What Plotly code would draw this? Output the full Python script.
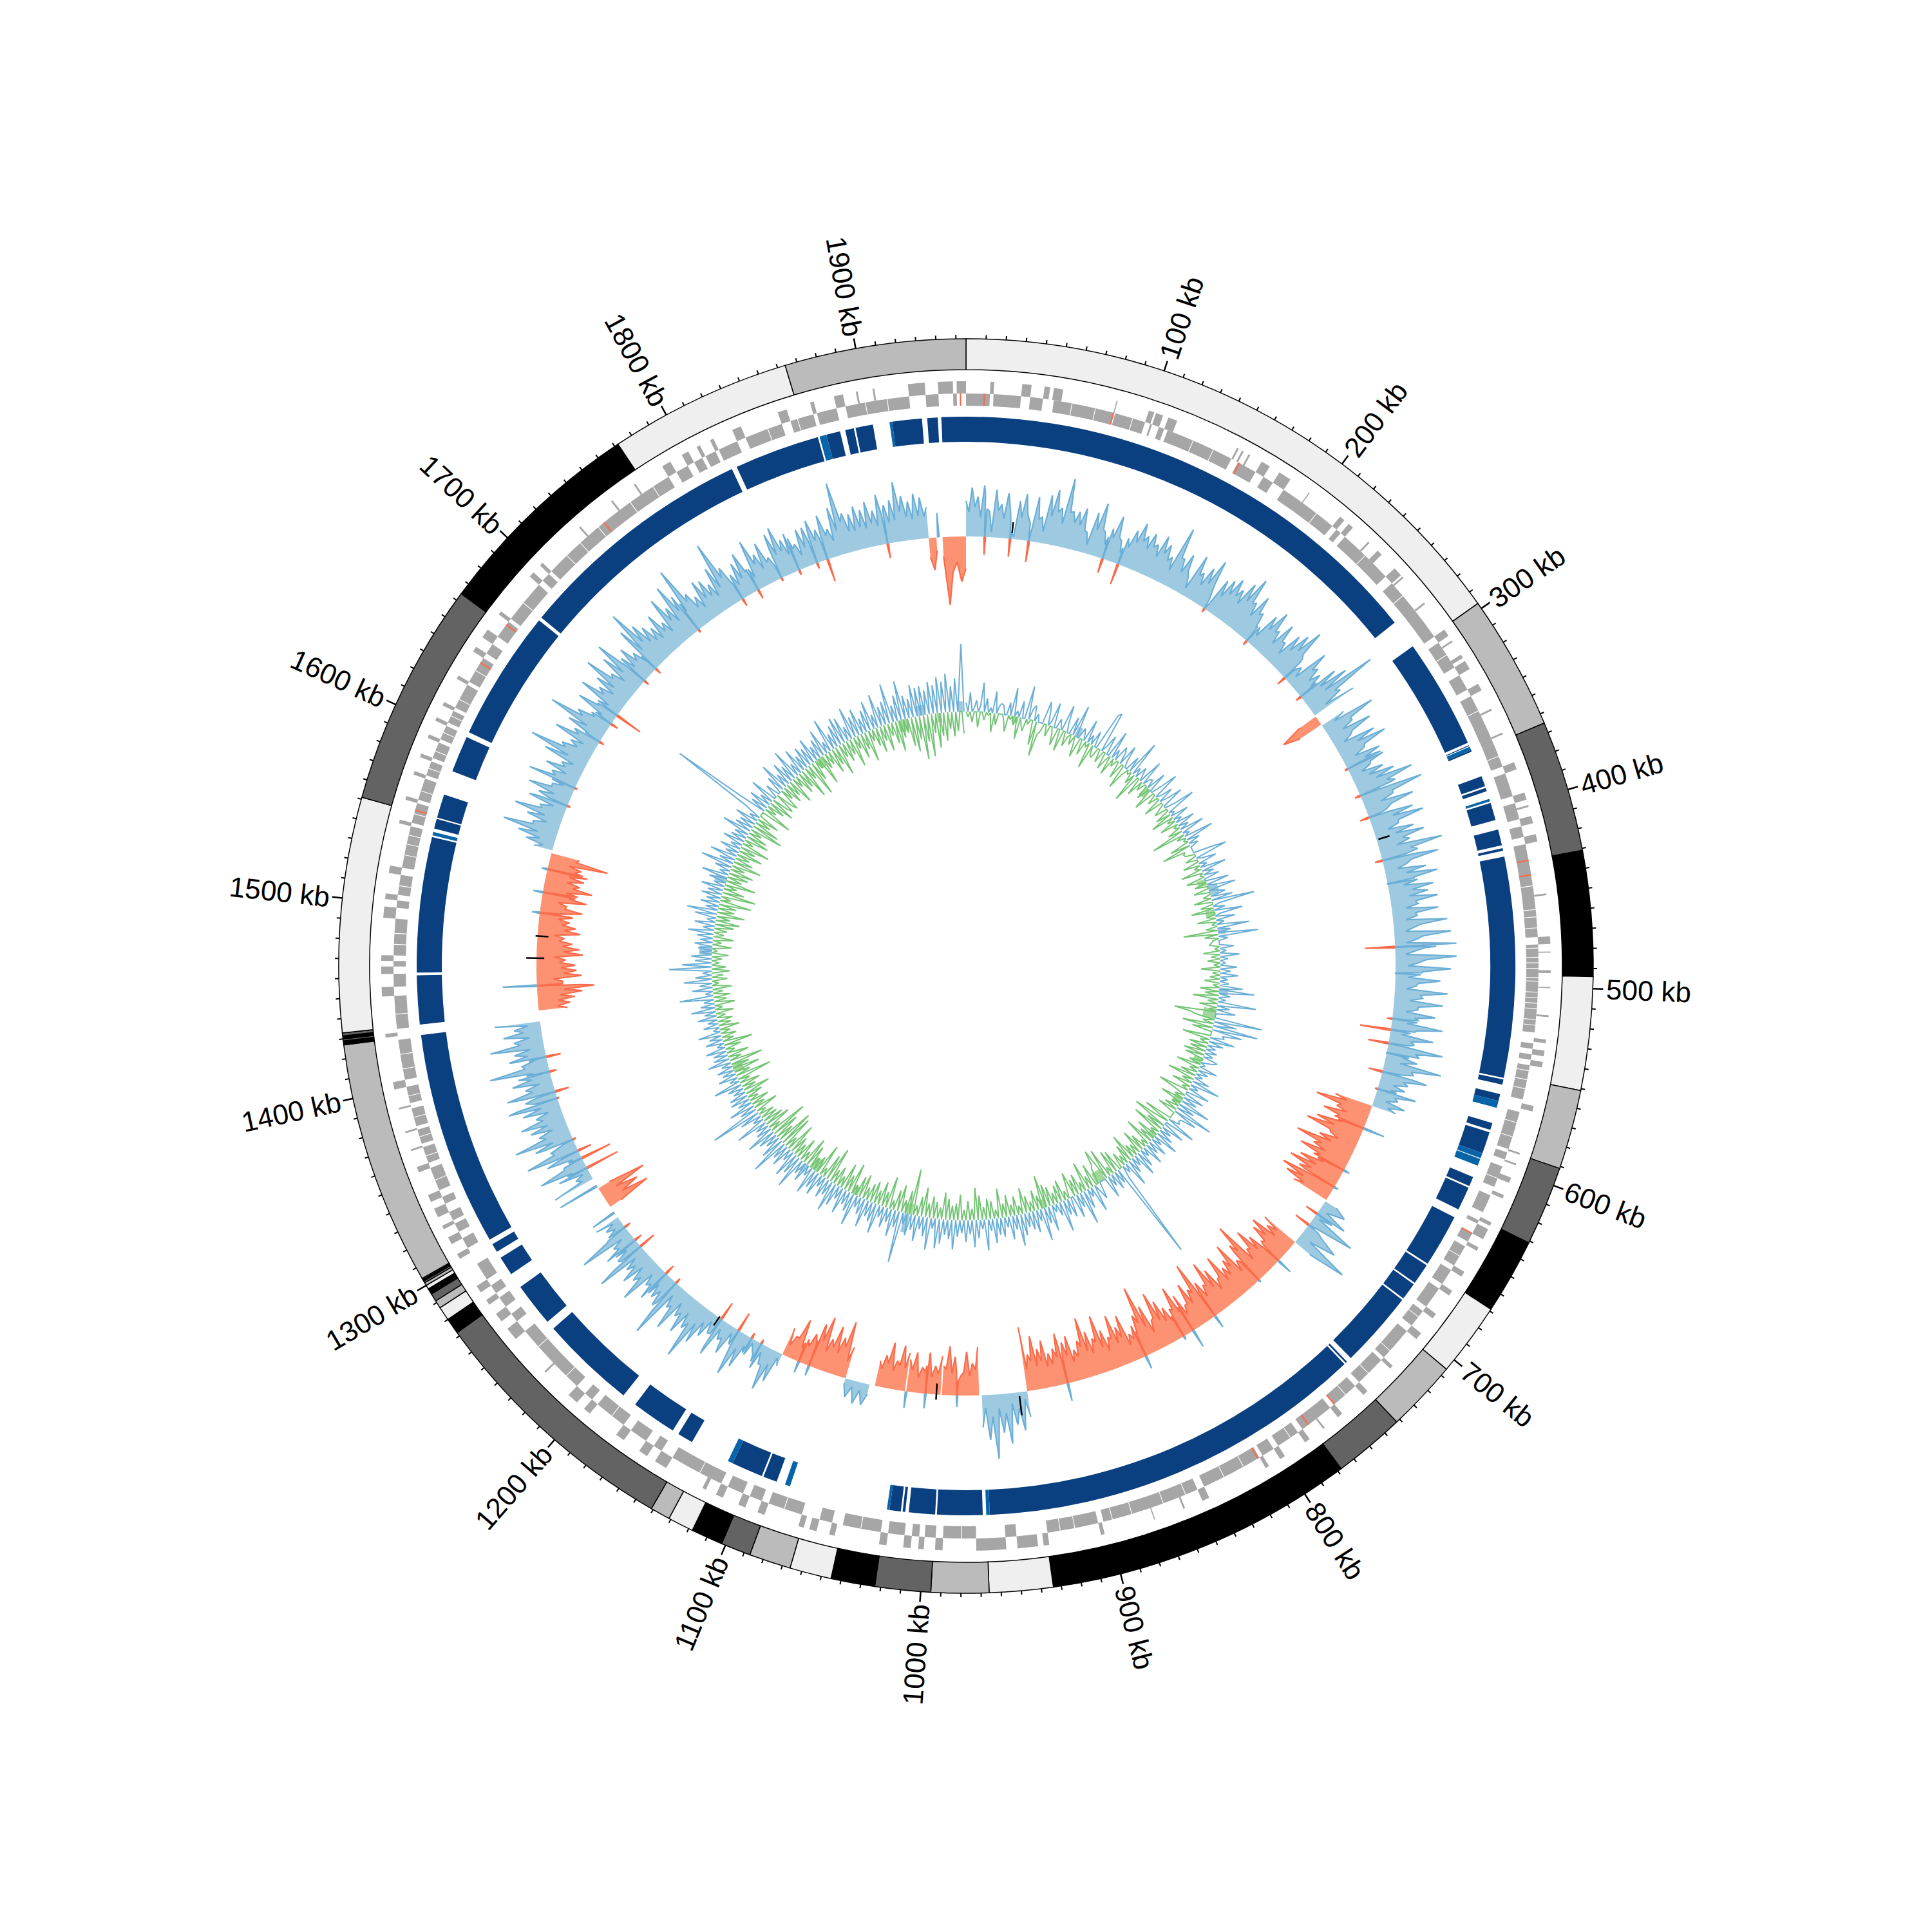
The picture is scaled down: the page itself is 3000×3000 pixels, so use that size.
import numpy as np
import plotly.graph_objects as go

GENOME_KB = 1955
MAJOR_KB = list(range(100, 1901, 100))
MINOR_KB = list(range(10, 1951, 10))

BAND_EDGES = [0,297,365,431,494,551,591,631,669,706,742,778,934,966,995,1023,1045,1066,1087,1102,1118,1131,1141,
              1272,1280,1287,1291,1295,1298,1300,1301.5,1302.5,1303.5,1304,1427,1429,1430,1431.5,1433,1551,1664,1772,1864,1955]
L, M, D, K = "#efefef", "#bbbbbb", "#636363", "#000000"
BAND_COLORS = [L,M,D,K,L,M,D,K,L,M,D,K,L,M,D,K,L,M,D,K,L,M,D,K,L,M,D,K,L,M,D,K,L,M,K,D,K,D,L,D,K,L,M]

GENES_OUTER = [(13,15),(30,35),(42,45),(47,52),(81,81.6),(99,102),(103,107),(110,115),(150,151),(153,154),(157,158),(165,170),
 (176,183),(195,195.6),(216,219),(222,225),(236,237),(243,246),(256,261),(262,263),(280,281),(298,302),(305,306),(314,316),(318,323),
 (332,336),(347,348),(361,362),(378,382),(395,399),(402,403),(408,412),(418,422),(450,451),(473,477),(481,481.6),(491,492.5),(500,500.6),
 (515,516),(528,530),(534,537),(540,543),(564,567),(590,591),(596,597),(604,607),(614,616),(630,632),(634,640),(645,647),(660,663),(672,675),
 (687,690),(700,704),(723,725),(742,745),(760,763),(772,773),(782,785),(798,801),(808,810),(844,848),(858,859),(875,875.6),(903,905),(933,936),
 (939,950),(956,972),(990,994),(1000,1003),(1007,1011),(1020,1024),(1048,1051),(1058,1062),(1065,1068),(1087,1091),(1098,1102),(1111,1115),
 (1121,1123),(1145,1152),(1157,1162),(1172,1177),(1195,1199),(1204,1210),(1227,1228),(1251,1258),(1263,1268),(1274,1277),(1282,1286),
 (1303,1306),(1312,1316),(1321,1323),(1328,1333),(1337,1341),(1354,1357),(1366,1367),(1376,1377),(1389,1390),(1400,1404),(1428,1430),(1450,1455),
 (1462,1466),(1469,1472),(1492,1498),(1502,1505),(1516,1520),(1543,1545),(1556,1558),(1570,1572),(1580,1582),(1591,1593),(1601,1603),(1610,1612),
 (1626,1628),(1643,1646),(1652,1657),(1667,1669),(1693,1696),(1701,1703),(1730,1731),(1752,1753),(1767,1768),(1785,1790),(1797,1801),(1806,1808),
 (1814,1816),(1827,1832),(1853,1858),(1871,1873),(1884,1889),(1896,1897),(1905,1906),(1924,1933),(1940,1948),(1950,1955)]

GENES_INNER = [(0,13),(15,30),(35,42),(48,81.5),(82,99),(102,103),(107,110),(112,150),(154,165),(170,176),(183,216),(219,222),(225,256),(261,298),
 (302,318),(323,332),(336,378),(382,395),(399,408),(412,418),(422,473),(477,525),(531,534),(537,540),(543,562),(569,590),(592,596),(600,612),
 (617,627),(632,634),(640,645),(648,660),(663,672),(675,687),(690,700),(704,723),(725,742),(745,760),(763,782),(785,798),(801,808),(810,844),
 (848,902),(905,933),(950,956),(972,990),(994,1000),(1003,1007),(1011,1020),(1024,1045),(1051,1058),(1068,1087),(1091,1098),(1102,1111),
 (1115,1145),(1152,1157),(1162,1172),(1177,1195),(1199,1204),(1210,1251),(1258,1263),(1268,1274),(1277,1282),(1286,1296),(1306,1312),(1316,1321),
 (1323,1328),(1333,1337),(1341,1354),(1357,1366),(1368,1376),(1378,1388),(1391,1400),(1404,1426),(1432,1450),(1455,1462),(1466,1469),(1472,1492),
 (1498,1502),(1505,1516),(1520,1543),(1545,1556),(1558,1570),(1572,1580),(1582,1591),(1593,1601),(1603,1610),(1612,1626),(1628,1643),(1646,1652),
 (1657,1667),(1669,1693),(1696,1701),(1703,1785),(1790,1797),(1801,1806),(1808,1814),(1816,1827),(1832,1853),(1858,1871),(1873,1884),(1889,1924),
 (1933,1940),(1948,1950)]
GENES_RED = [10,81,155,431,439,640,760,778,811,1552,1640,1665,1742,1952]
GENE_WHITE_LINES = [58,71,92,127,139,205,240,270,310,345,372,445,458,462,468,479,484,487,490,495,497,503,506,509,512,518,521,546,551,556,575,583,607,654,
 694,718,735,752,790,820,832,855,868,886,897,918,926,980,1035,1078,1128,1185,1218,1240,1347,1361,1372,1383,1395,1410,1418,1440,1478,1484,1510,1527,1533,1538,
 1550,1563,1576,1586,1597,1607,1617,1635,1680,1715,1725,1738,1760,1775,1845,1862,1900,1912]

BLOCKS_DARK = [(-14,278.6),(295.5,358.5),(360,360.5),(363,364),(379,385),(386,388),(395,405),(410.6,419.8),(421.5,423),(426.3,552.6),(553.5,556.5),
 (562,566),(579,583),(584.5,597),(611.5,617),(618,631.6),(636.6,667),(668,680),(681,691),(692,736),(739,740),(741,964),(968,994),(995,1010),
 (1012,1013.5),(1014.5,1021),(1087,1095),(1096,1114),(1140,1149),(1152.7,1178.6),(1187,1242),(1247,1272),(1281,1292),(1296,1301),(1304,1427),
 (1433,1461),(1462.5,1540),(1545,1550.6),(1551.4,1565),(1579,1600),(1603,1678),(1680,1818),(1821,1870),(1875,1883),(1886,1891),(1892,1902),
 (1913,1930),(1933,1939)]
BLOCKS_LIGHT = [(361,363),(392.6,394),(566,570),(597,600),(600.5,604.5),(964,966),(1021,1022.5),(1079,1082),(1114,1117),(1541,1543),(1871,1875),(1911.5,1913)]

OUTER_BLUE_A = [55,76,62,80,40,74,52,70,10,60,72,30,70,40,76,86,60,108,58,60,68,32,66,84,40,52,72,36,44,60,75,58,66,52,70,60,44,97,50,62,28,70,46,60,78,20,56,62,70,58,76,91,55,72,48,30,58,72,44,64,38,60,70,86,40,30,70,48,44,66,80,121,55,73]
TROUGH_A = [38,46,30,44,8,42,30,44,4,34,40,16,36,18,44,52,36,56,42,40,34,14,40,44,22,36,40,18,30,42,48,40,46,34,44,36,24,50,30,36,12,40,28,36,40,8,30,40,44,36,48,50,34,44,26,16,36,40,24,36,20,36,44,46,22,14,40,26,22,34,36,48,24]
OUTER_RED_B = [-30,-66,-40]
OUTER_BLUE_C = [40,86,44,70,30,66,80,38,60,72,34,52,66,92,60,100,48,78,32,70,84,40,62,76,50,99,58,88,36,64,80,46,70,60,74,42,72,38,84,30,88,34,98,30,95,36,86,40,70,32,82,44,76,38,66,46,80,36,68,40,86,52,50,90,48,72,44,42,62,36,50,38]
TROUGH_C = [20,44,24,36,16,34,42,20,32,38,18,26,34,48,32,50,26,40,18,36,42,22,32,40,28,48,30,44,20,32,42,24,36,30,38,22,36,20,42,18,44,18,46,16,48,20,42,20,36,18,40,24,38,20,34,24,40,18,34,20,44,26,24,44,26,36,22,20,30,18,24]
OUTER_RED_D = [-60,-88,-52,-70,-50,-75,-88,-45,-60,-94,-62,-80,-56,-72,-85,-65,-89,-78,-60]
TROUGH_D = [-40,-46,-34,-42,-36,-44,-48,-30,-38,-50,-40,-44,-34,-42,-46,-40,-50,-44]
OUTER_BLUE_E = [20,40,12,50,8,74,10,30,60,18,89,30]
OUTER_RED_F = [-61,-50,-72,-64,-40,-58,-76,-48,-100,-70,-46,-82,-60,-52,-78,-44,-66,-84,-50,-60,-97,-58,-72,-40,-62,-80,-48,-55,-70,-88,-46,-74,-109,-66,-52,-42,-76,-60,-82,-50,-64,-90,-56,-70,-94,-60,-48,-72,-64,-80,-58,-52,-74,-62,-84,-56,-100]
TROUGH_F = [-34,-30,-42,-36,-24,-36,-44,-30,-56,-40,-28,-46,-36,-32,-44,-28,-38,-46,-32,-36,-50,-36,-40,-26,-36,-44,-30,-34,-40,-48,-28,-42,-52,-38,-32,-26,-42,-36,-46,-30,-38,-50,-34,-40,-50,-36,-30,-42,-38,-44,-34,-32,-42,-36,-46,-34]
OUTER_BLUE_G = [40,60,50,78,60,100,70,50]
TROUGH_G = [12,24,16,30,22,34,20]
OUTER_RED_H = [-75,-50,-68,-30,-60,-76,-45]
TROUGH_H = [-40,-30,-36,-20,-34,-40]
OUTER_RED_I = [-60,-44,-64,-40,-62,-50]
TROUGH_I = [-32,-26,-34,-24,-34]
OUTER_RED_J = [-60,-70,-45,-72,-50,-40]
TROUGH_J = [-36,-38,-28,-38,-28]
OUTER_BLUE_K = [15,34,12,35,10,28,8]
OUTER_RED_L = [-50,-88,-60,-75,-52,-84,-70,-50,-40,-66,-35,-45]
TROUGH_L = [-26,-46,-34,-40,-30,-44,-38,-28,-22,-34,-18]
OUTER_BLUE_M = [20,50,68,30,45,15,35,55,73,25,48,30,62,30,42,60,93,48,62,40,70,38,96,50,42,60,35,72,44,55,40,84,42,60,35,86,30,28,40]
TROUGH_M = [8,24,30,12,22,6,16,26,30,10,24,14,28,12,20,30,36,24,30,18,32,18,38,26,20,28,16,32,20,26,18,36,20,28,16,36,14,12]
OUTER_RED_N = [-20,-72,-30,-60,-25,-78,-20]
OUTER_BLUE_O = [67,25,50,76,30,55,84,40,62,91,48,58,70,42,60,80,50,76,44,62,52,93,40,58,48,84,45,60,42,71]
TROUGH_O = [16,10,24,34,14,26,36,18,30,38,24,28,32,20,28,36,24,34,20,30,26,36,20,28,22,36,20,28,20]
OUTER_RED_P = [-45,-50,-58,-70,-89,-40,-70,-62,-60,-45,-72,-66,-55,-42,-66,-58,-48,-52,-66,-40,-70,-60,-76,-55,-60,-70,-52,-92,-45]
TROUGH_P = [-30,-32,-36,-42,-40,-26,-42,-38,-36,-28,-42,-40,-34,-26,-40,-36,-30,-32,-38,-26,-42,-36,-44,-34,-36,-42,-32,-40]
OUTER_BLUE_Q = [30,45,60,87,42,55,78,40,62,50,70,35,79,44,58,36,70,98,50,40,72,44,60,97,55,38,66,40,74,48,60,86,46,70,88,50,60,42,78,104,72,60,50,66,45,81,58,90,70,106,56,44,65,60,48,70,107,60,42,56,68,40,79,52,66,38,72,79,55,70,40,60,60,68,50,70,45,76,113,62,58,68,60,71,55,78,60,66,93,70,60,71,64,48]
TROUGH_Q = [16,24,30,40,22,28,36,20,30,26,34,18,36,22,28,18,32,42,26,20,34,22,30,44,28,20,32,20,36,24,30,40,24,34,42,26,30,22,36,44,36,30,26,32,24,38,30,42,34,46,28,22,32,30,24,34,46,30,22,28,34,20,38,26,32,20,36,38,28,34,20,30,30,34,26,36,24,38,50,32,30,34,30,36,30,40,32,34,46,36,32,36,34]
OUTER_RED_R = [-30,-50,-20]
OUTER_RED_S = [-30,-106,-55,-40,-70,-50]

OUTER_REGIONS = [(0,295,OUTER_BLUE_A,TROUGH_A),(296,303,OUTER_RED_B,[]),(304,592,OUTER_BLUE_C,TROUGH_C),(592,668,OUTER_RED_D,TROUGH_D),(669,706,OUTER_BLUE_E,[]),
 (706,933,OUTER_RED_F,TROUGH_F),(933,966,OUTER_BLUE_G,TROUGH_G),(968,995,OUTER_RED_H,TROUGH_H),(996,1021,OUTER_RED_I,TROUGH_I),(1022,1044,OUTER_RED_J,TROUGH_J),
 (1048,1066,OUTER_BLUE_K,[]),(1066,1115,OUTER_RED_L,TROUGH_L),(1115,1272,OUTER_BLUE_M,TROUGH_M),(1281,1297,OUTER_RED_N,[]),(1305,1426,OUTER_BLUE_O,TROUGH_O),
 (1434,1549,OUTER_RED_P,TROUGH_P),(1551,1928,OUTER_BLUE_Q,TROUGH_Q),(1928,1933.5,OUTER_RED_R,[]),(1938,1955,OUTER_RED_S,[])]

SPIKE_KB = [13.6,32,45.6,100.6,112.5,183,221.6,260,278,340.5,362,379,411.6,475,527,535,545,566,579,
 1898,1853,1845,1831,1817,1798,1785,1746,1704,1692,1660,1652.5,1637,1599,1585,
 1400,1389,1374,1369,1337,1328,1322,1314,1263,1251,1245,1218,1208,1166,1151,1140,1132,680,690,
 609.4,643,657,724,744,785,804,812,843,903,1021,1007,984,1102,1094,1537,1520,1505,1452,1276,1299,1935,
 429,494,552]
SPIKE_VAL = [-28,-28,-33,-23,-33,-6,-8,-14,-9,-5,-9,-15,-12,-47,-8,-48,-32,-22,-4,
 -23,-36,-9,-8,-5,-15,-12,-5,-10,-8,-44,-12,-8,-4,-5,
 -23,-11,-22,-3,-5,-22,-49,-54,-10,-12,-27,-16,-9,-30,-31,-9,-7,-20,-25,
 34,10,7,25,4,21,29,6,21,28,26,23,18,18,16,9,15,12,53,40,66,38,
 0,0,0]

BLACK_KB = [33,396,939,1168,999,1488,1472]
BLACK_R0 = [676,670,673,665,650,650,655]
BLACK_R1 = [693,688,703,682,675,670,683]

INNER_CHUNKS = [
[14,-8,30,-16,6,18,-24,10,46,-12,22,-4,8,-30,34,-18,12,16,14,-10,-26,20,-6,44,-14,9,-34,26,-12,-20,52,-8,18,24,-38,12,-54,-18,-14,36],
[22,-18,8,38,-10,-28,16,6,-34,42,12,-22,-6,28,-16,50,-12,-32,18,10,-24,36,-8,14,-40,24,-14,-18,60,65,-20,10,30,-26,-8,44,-30,16,-12,26],
[18,-26,34,10,-38,-12,24,-6,56,-18,14,-46,20,8,-28,40,-14,12,14,-22,32,-8,-34,18,44,-16,6,26,-30,12,36,-10,-20,16,48,-24,8,-36,28,-12],
[12,-28,30,-8,16,-22,38,-53,10,-14,46,-6,20,-32,14,-48,-12,-16,-14,28,52,-18,8,30,-26,12,-10,40,-34,18,-6,24,-30,-14,36,-20,10,44,-24,14],
[24,-12,34,-28,67,10,-20,18,-36,44,8,-14,30,-30,12,-8,50,-18,20,-54,62,-22,14,-10,-12,-16,22,-8,10,-26,30,-14,12,-20,8,-10,26,-30,16,-12],
[28,-16,12,-24,14,-10,36,-30,55,-22,18,-40,12,-16,60,-28,20,-12,30,-65,-40,-30,75,-18,36,-49,71,-32,48,18,22,-44,40,-14,24,-30,14,-26,18,-34],
[14,-30,24,16,-20,8,-38,30,-14,18,-26,12,-44,26,-18,46,-32,14,-12,36,-48,-20,32,-16,24,-36,50,-14,28,-22,63,-30,40,16,14,18,-44,48,-24,-57],
[36,-30,18,-50,26,-14,40,-34,16,-24,30,-46,20,-12,34,-26,14,-38,28,-18,38,-22,16,-44,24,-30,42,-16,14,-24,20,158,-34,22,-38,28,-14,18,-48,34,-24],
[-52,-30,-24,26,12,-36,42,-20,14,-46,30,-16,53,-32,22,-26,36,-40,-18,30,-14,24,-34,48,-28,20,-18,12,-30,40,-36,26,-52,51,-22,18,-32,34,-16,28],
[-26,22,-40,34,-14,49,-30,22,-18,36,-34,16,-22,30,-46,26,-14,38,-28,18,-32,48,-20,14,-38,28,-50,42,-18,22,-30,34,-16,20,-40,26,-26,46,-22,30],
[-32,24,-42,38,-18,46,-26,16,-34,50,-22,30,-46,20,-30,40,-16,24,-71,34,-36,18,-20,80,-42,26,-32,42,-14,22,-50,32,-24,18,-38,46,-22,30,-34,24],
[-28,44,-20,26,-38,18,-32,50,-16,30,-48,22,-26,40,-42,20,-18,34,-30,47,-22,24,-55,32,-40,18,-14,36,-50,28,-26,42,-20,16,-36,30,-46,22,-18,52],
[-36,32,-22,42,-30,18,-48,34,-20,26,-52,59,-58,36,-28,22,-42,30,-61,46,-18,24,-40,20,-32,50,-26,16,-24,34,-14,80,-38,26,-20,40,-30,22,-16,30],
[-26,28,-42,18,-22,24,-32,44,-18,14,-56,30,-24,20,-42,26,-28,16,-52,36,-20,24,-34,22,-14,32,-26,12,-46,28,-18,20,-24,36,-16,10,-32,24,-20,16],
[-24,30,-14,18,-28,38,-12,22,-32,16,-20,53,-26,12,-16,32,-30,20,-10,44,-24,26,-18,14,-28,66,-22,46,-12,26,-16,32,-26,18,-8,22,-30,28,-14,20],
[-32,26,-16,40,-20,18,-30,32,-38,14,-22,34,-44,48,-26,20,-28,30,-50,22,-16,32,-54,24,-34,36,-20,18,-48,28,-24,42,-32,16,-38,26,-22,51,-46,24],
[-30,42,-22,20,-40,32,-26,18,-46,34,-16,24,-38,22,-32,46,-20,28,-52,24,-42,36,-24,16,-34,30,159,44,-48,26,-18,34,-28,20,-40,42,-24,-34,22,-26],
[-36,28,-20,46,-32,22,-24,36,-42,26,-18,49,-34,20,-28,40,-50,24,-22,34,-54,28,-32,40,-16,22,-46,30,-24,42,-20,18,-38,52,-28,24,-48,34,-22,44],
[-32,40,-24,22,-46,50,-20,32,-38,42,-26,24,-48,34,-18,46,-28,22,-40,52,-24,30,-42,36,-20,62,-34,26,-48,40,-28,61,-22,36,-44,30,-54,50,-36,44],
[-69,46,-42,38,-66,50,-30,44,-54,56,-36,48,-44,60,-26,40,-38,52,-30,46,105,-34],
]
INNER_STARTS = list(range(0, 2000, 100))

INNER_PATCH_GREEN = [(61,4,-10),(249,4,-16),(384,4,-14),(423,4,-14),(548,6,-20),(608,4,-14),(663,5,-14),(717,4,-12),(803,6,-18),(880,4,-14),
 (1049,5,-16),(1119,4,-14),(1178,5,-20),(1336,5,-16),(1763,4,-16),(1876,6,-18),(1922,3,-14)]
INNER_PATCH_BLUE = [(140,3,16),(395,6,15),(446,4,12),(519,4,14),(1050,3,30),(1188,3,14),(1485,5,20),(1573,4,18),(1900,4,16),(1948,3,16)]

PAGE_MARGIN = 8
PLOT_R = 1500 - PAGE_MARGIN
R_IDEO = (926, 974)
R_GENE_IN = (870, 889)
R_GENE_OUT = (889, 908)
R_BLOCK = (814, 853)
R_OUTER_BASE = 667
R_INNER_BASE = 395
BLUE_F, BLUE_L = "#9ecae1", "#6baed6"
RED_F, RED_L = "#fc9272", "#fb6a4a"
GREEN_F, GREEN_L = "#a1d99b", "#74c476"
GENE_GREY = "#a6a6a6"
BLOCK_DARK, BLOCK_LIGHT = "#0a3f80", "#0864a8"
LABEL_FONT = "Liberation Sans, sans-serif"


def th(kb):
    return np.asarray(kb, dtype=float) * 360.0 / GENOME_KB


def bars(intervals, r0, r1, color):
    a = np.array(intervals, dtype=float)
    return go.Barpolar(theta=th((a[:, 0] + a[:, 1]) / 2), width=th(a[:, 1] - a[:, 0]), r=[r1 - r0] * len(a), base=[r0] * len(a),
                       marker=dict(color=color, line=dict(width=0)), hoverinfo="skip", showlegend=False)


def lines(theta, r, color, width):
    return go.Scatterpolar(theta=theta, r=r, mode="lines", line=dict(color=color, width=width), hoverinfo="skip", showlegend=False)


def filled(theta, r, color):
    return go.Scatterpolar(theta=theta, r=r, mode="lines", line=dict(width=0, color=color), fill="toself", fillcolor=color,
                           hoverinfo="skip", showlegend=False)


def kb_deg(seq):
    return [None if v is None else v * 360.0 / GENOME_KB for v in seq]


fig = go.Figure()

edges = np.array(BAND_EDGES, dtype=float)
fig.add_trace(go.Barpolar(theta=th((edges[:-1] + edges[1:]) / 2), width=th(np.diff(edges)), r=[R_IDEO[1] - R_IDEO[0]] * len(BAND_COLORS),
                          base=[R_IDEO[0]] * len(BAND_COLORS), marker=dict(color=BAND_COLORS, line=dict(color="black", width=1.5)),
                          hoverinfo="skip", showlegend=False))

fig.add_trace(bars(GENES_OUTER, *R_GENE_OUT, GENE_GREY))
fig.add_trace(bars(GENES_INNER, *R_GENE_IN, GENE_GREY))
fig.add_trace(bars([(k - 0.2, k + 0.2) for k in GENE_WHITE_LINES], *R_GENE_IN, "#ffffff"))
fig.add_trace(bars([(k - 0.4, k + 0.4) for k in GENES_RED], *R_GENE_IN, RED_L))

fig.add_trace(bars(BLOCKS_DARK, *R_BLOCK, BLOCK_DARK))
fig.add_trace(bars(BLOCKS_LIGHT, *R_BLOCK, BLOCK_LIGHT))

spikes = sorted(zip(SPIKE_KB, SPIKE_VAL))
poly = {1: ([], [], [], []), -1: ([], [], [], [])}
for start, end, vals, trough in OUTER_REGIONS:
    sign = 1 if vals[0] > 0 else -1
    merged = []
    for i, v in enumerate(vals):
        merged.append(v)
        if i < len(trough) and i < len(vals) - 1:
            merged.append(trough[i])
    x = list(np.linspace(start, end, len(merged)))
    y = [float(v) for v in merged]
    for kb, v in spikes:
        if start < kb < end and v * sign <= 0:
            yv = np.interp([kb - 0.7, kb + 0.7], x, y)
            keep = [(a, b) for a, b in zip(x, y) if not (kb - 0.7 <= a <= kb + 0.7)]
            keep += [(kb - 0.7, yv[0]), (kb - 0.15, 0.0), (kb + 0.15, 0.0), (kb + 0.7, yv[1])]
            keep.sort()
            x, y = [p[0] for p in keep], [p[1] for p in keep]
    p = poly[sign]
    p[0].extend([x[0]] + x + [x[-1]] + x[::-1] + [None])
    p[1].extend([R_OUTER_BASE] + [R_OUTER_BASE + b for b in y] + [R_OUTER_BASE] + [R_OUTER_BASE] * len(x) + [None])
    p[2].extend(x + [None])
    p[3].extend([R_OUTER_BASE + b for b in y] + [None])

fig.add_trace(filled(kb_deg(poly[1][0]), poly[1][1], BLUE_F))
fig.add_trace(filled(kb_deg(poly[-1][0]), poly[-1][1], RED_F))
fig.add_trace(lines(kb_deg(poly[1][2]), poly[1][3], BLUE_L, 2.2))
fig.add_trace(lines(kb_deg(poly[-1][2]), poly[-1][3], RED_L, 2.2))

for sign, fc, lc in ((1, BLUE_F, BLUE_L), (-1, RED_F, RED_L)):
    t, r = [], []
    for kb, v in spikes:
        if v * sign > 0:
            t += [kb - 0.6, kb, kb + 0.6, None]
            r += [R_OUTER_BASE, R_OUTER_BASE + v, R_OUTER_BASE, None]
    fig.add_trace(filled(kb_deg(t), r, fc))
    fig.add_trace(lines(kb_deg(t), r, lc, 2.2))

t, r = [], []
for kb, r0, r1 in zip(BLACK_KB, BLACK_R0, BLACK_R1):
    t += [kb, kb, None]
    r += [r0, r1, None]
fig.add_trace(lines(kb_deg(t), r, "black", 2.5))

for patches, fc in ((INNER_PATCH_BLUE, BLUE_F), (INNER_PATCH_GREEN, GREEN_F)):
    t, r = [], []
    for kb, hw, h in patches:
        t += [kb - hw, kb - hw, kb + hw, kb + hw, None]
        r += [R_INNER_BASE, R_INNER_BASE + h, R_INNER_BASE + h, R_INNER_BASE, None]
    fig.add_trace(filled(kb_deg(t), r, fc))

ix, iy = [], []
for start, chunk in zip(INNER_STARTS, INNER_CHUNKS):
    end = min(start + 100, GENOME_KB)
    ix += list(np.linspace(start, end, len(chunk), endpoint=False))
    iy += list(chunk)
ix, iy = np.array(ix), np.array(iy, dtype=float)
for vals, lc in ((np.maximum(iy, 0), BLUE_L), (np.minimum(iy, 0), GREEN_L)):
    fig.add_trace(lines(th(ix), R_INNER_BASE + vals, lc, 2))

t, r = [], []
for k in MINOR_KB:
    if k not in MAJOR_KB:
        t += [k, k, None]
        r += [R_IDEO[1], R_IDEO[1] + 6, None]
fig.add_trace(lines(kb_deg(t), r, "black", 2))
t, r = [], []
for k in MAJOR_KB:
    t += [k, k, None]
    r += [R_IDEO[1], R_IDEO[1] + 16, None]
fig.add_trace(lines(kb_deg(t), r, "black", 2.5))

annotations = []
for k in MAJOR_KB:
    a = k * 360.0 / GENOME_KB
    w = 125 if k < 1000 else 147
    rc = 998 + w / 2
    rad = np.deg2rad(a)
    rot = a - 90 if a < 180 else a - 270
    annotations.append(dict(x=(PLOT_R + rc * np.sin(rad)) / 3000, y=1 - (PLOT_R - rc * np.cos(rad)) / 3000, xref="paper", yref="paper",
                            text=f"{k} kb", showarrow=False, textangle=rot, xanchor="center", yanchor="middle",
                            font=dict(family=LABEL_FONT, size=44, color="black")))

fig.update_layout(width=3000, height=3000, margin=dict(l=0, r=0, t=0, b=0), paper_bgcolor="white", showlegend=False,
                  annotations=annotations,
                  polar=dict(domain=dict(x=[0, 2 * PLOT_R / 3000], y=[1 - 2 * PLOT_R / 3000, 1]), bgcolor="white", barmode="overlay",
                             radialaxis=dict(range=[0, PLOT_R], visible=False),
                             angularaxis=dict(direction="clockwise", rotation=90, visible=False)))
fig.write_html("out.html")
